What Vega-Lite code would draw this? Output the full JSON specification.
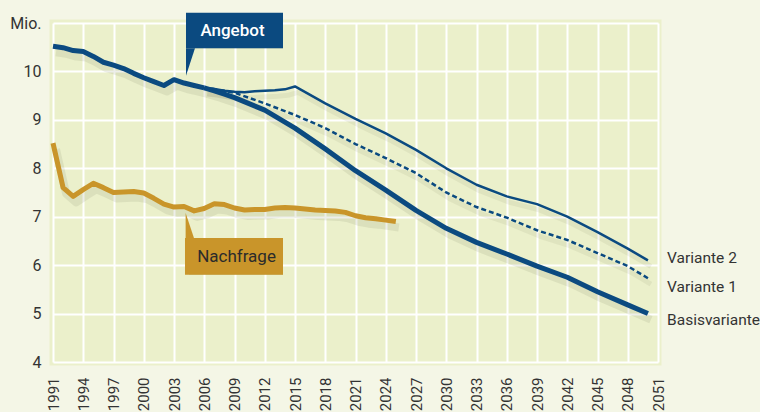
{
  "$schema": "https://vega.github.io/schema/vega-lite/v6.json",
  "width": 605,
  "height": 339,
  "autosize": {"type": "none"},
  "padding": {"left": 53, "top": 23, "right": 102, "bottom": 50},
  "background": "#f4f6e6",
  "config": {
    "font": "Roboto",
    "view": {"fill": "#ebf0cb", "stroke": "#ebf0cb", "strokeWidth": 7},
    "axis": {"grid": true, "gridColor": "#ffffff", "gridWidth": 2, "gridOpacity": 1, "ticks": false, "domain": false, "title": null, "labelColor": "#333333", "labelFont": "Roboto"}
  },
  "datasets": {
    "lines": [
      {"series": "Angebot", "year": 1991, "value": 10.52},
      {"series": "Angebot", "year": 1992, "value": 10.49},
      {"series": "Angebot", "year": 1993, "value": 10.43},
      {"series": "Angebot", "year": 1994, "value": 10.41},
      {"series": "Angebot", "year": 1995, "value": 10.31},
      {"series": "Angebot", "year": 1996, "value": 10.19},
      {"series": "Angebot", "year": 1997, "value": 10.13},
      {"series": "Angebot", "year": 1998, "value": 10.06},
      {"series": "Angebot", "year": 1999, "value": 9.96},
      {"series": "Angebot", "year": 2000, "value": 9.87},
      {"series": "Angebot", "year": 2001, "value": 9.79},
      {"series": "Angebot", "year": 2002, "value": 9.71},
      {"series": "Angebot", "year": 2003, "value": 9.83},
      {"series": "Angebot", "year": 2004, "value": 9.76},
      {"series": "Angebot", "year": 2005, "value": 9.71},
      {"series": "Angebot", "year": 2006, "value": 9.66},
      {"series": "Basisvariante", "year": 2006, "value": 9.66},
      {"series": "Basisvariante", "year": 2007, "value": 9.6},
      {"series": "Basisvariante", "year": 2008, "value": 9.53},
      {"series": "Basisvariante", "year": 2009, "value": 9.46},
      {"series": "Basisvariante", "year": 2012, "value": 9.2},
      {"series": "Basisvariante", "year": 2015, "value": 8.83},
      {"series": "Basisvariante", "year": 2018, "value": 8.4},
      {"series": "Basisvariante", "year": 2021, "value": 7.95},
      {"series": "Basisvariante", "year": 2024, "value": 7.55},
      {"series": "Basisvariante", "year": 2027, "value": 7.13},
      {"series": "Basisvariante", "year": 2030, "value": 6.76},
      {"series": "Basisvariante", "year": 2033, "value": 6.47},
      {"series": "Basisvariante", "year": 2036, "value": 6.23},
      {"series": "Basisvariante", "year": 2039, "value": 5.98},
      {"series": "Basisvariante", "year": 2042, "value": 5.75},
      {"series": "Basisvariante", "year": 2045, "value": 5.45},
      {"series": "Basisvariante", "year": 2048, "value": 5.18},
      {"series": "Basisvariante", "year": 2050, "value": 5.0},
      {"series": "Variante 2", "year": 2006, "value": 9.66},
      {"series": "Variante 2", "year": 2007, "value": 9.64},
      {"series": "Variante 2", "year": 2008, "value": 9.6},
      {"series": "Variante 2", "year": 2009, "value": 9.58},
      {"series": "Variante 2", "year": 2010, "value": 9.57},
      {"series": "Variante 2", "year": 2011, "value": 9.59},
      {"series": "Variante 2", "year": 2012, "value": 9.6},
      {"series": "Variante 2", "year": 2013, "value": 9.61},
      {"series": "Variante 2", "year": 2014, "value": 9.63},
      {"series": "Variante 2", "year": 2015, "value": 9.69},
      {"series": "Variante 2", "year": 2018, "value": 9.34},
      {"series": "Variante 2", "year": 2021, "value": 9.02},
      {"series": "Variante 2", "year": 2024, "value": 8.72},
      {"series": "Variante 2", "year": 2027, "value": 8.38},
      {"series": "Variante 2", "year": 2030, "value": 8.0},
      {"series": "Variante 2", "year": 2033, "value": 7.66},
      {"series": "Variante 2", "year": 2036, "value": 7.42},
      {"series": "Variante 2", "year": 2039, "value": 7.26},
      {"series": "Variante 2", "year": 2042, "value": 7.0},
      {"series": "Variante 2", "year": 2045, "value": 6.68},
      {"series": "Variante 2", "year": 2048, "value": 6.34},
      {"series": "Variante 2", "year": 2050, "value": 6.1},
      {"series": "Variante 1", "year": 2006, "value": 9.66},
      {"series": "Variante 1", "year": 2007, "value": 9.63},
      {"series": "Variante 1", "year": 2008, "value": 9.6},
      {"series": "Variante 1", "year": 2009, "value": 9.56},
      {"series": "Variante 1", "year": 2012, "value": 9.34},
      {"series": "Variante 1", "year": 2015, "value": 9.1},
      {"series": "Variante 1", "year": 2018, "value": 8.83},
      {"series": "Variante 1", "year": 2021, "value": 8.5},
      {"series": "Variante 1", "year": 2024, "value": 8.21},
      {"series": "Variante 1", "year": 2027, "value": 7.9},
      {"series": "Variante 1", "year": 2030, "value": 7.5},
      {"series": "Variante 1", "year": 2033, "value": 7.2},
      {"series": "Variante 1", "year": 2036, "value": 6.98},
      {"series": "Variante 1", "year": 2039, "value": 6.72},
      {"series": "Variante 1", "year": 2042, "value": 6.52},
      {"series": "Variante 1", "year": 2045, "value": 6.25},
      {"series": "Variante 1", "year": 2048, "value": 5.98},
      {"series": "Variante 1", "year": 2050, "value": 5.73},
      {"series": "Nachfrage", "year": 1991, "value": 8.52},
      {"series": "Nachfrage", "year": 1992, "value": 7.6},
      {"series": "Nachfrage", "year": 1993, "value": 7.42},
      {"series": "Nachfrage", "year": 1994, "value": 7.56},
      {"series": "Nachfrage", "year": 1995, "value": 7.69},
      {"series": "Nachfrage", "year": 1996, "value": 7.6},
      {"series": "Nachfrage", "year": 1997, "value": 7.5},
      {"series": "Nachfrage", "year": 1998, "value": 7.51},
      {"series": "Nachfrage", "year": 1999, "value": 7.52},
      {"series": "Nachfrage", "year": 2000, "value": 7.49},
      {"series": "Nachfrage", "year": 2001, "value": 7.38},
      {"series": "Nachfrage", "year": 2002, "value": 7.26},
      {"series": "Nachfrage", "year": 2003, "value": 7.2},
      {"series": "Nachfrage", "year": 2004, "value": 7.21},
      {"series": "Nachfrage", "year": 2005, "value": 7.12},
      {"series": "Nachfrage", "year": 2006, "value": 7.17},
      {"series": "Nachfrage", "year": 2007, "value": 7.27},
      {"series": "Nachfrage", "year": 2008, "value": 7.25},
      {"series": "Nachfrage", "year": 2009, "value": 7.18},
      {"series": "Nachfrage", "year": 2010, "value": 7.14},
      {"series": "Nachfrage", "year": 2011, "value": 7.15},
      {"series": "Nachfrage", "year": 2012, "value": 7.15},
      {"series": "Nachfrage", "year": 2013, "value": 7.18},
      {"series": "Nachfrage", "year": 2014, "value": 7.19},
      {"series": "Nachfrage", "year": 2015, "value": 7.18},
      {"series": "Nachfrage", "year": 2016, "value": 7.16},
      {"series": "Nachfrage", "year": 2017, "value": 7.14},
      {"series": "Nachfrage", "year": 2018, "value": 7.13},
      {"series": "Nachfrage", "year": 2019, "value": 7.12},
      {"series": "Nachfrage", "year": 2020, "value": 7.09},
      {"series": "Nachfrage", "year": 2021, "value": 7.02},
      {"series": "Nachfrage", "year": 2022, "value": 6.98},
      {"series": "Nachfrage", "year": 2023, "value": 6.96},
      {"series": "Nachfrage", "year": 2024, "value": 6.93},
      {"series": "Nachfrage", "year": 2025, "value": 6.9}
    ],
    "boxes": [
      {"label": "Angebot", "year": 2004.19, "year2": 2013.81, "value": 11.21, "value2": 10.48},
      {"label": "Nachfrage", "year": 2004.09, "year2": 2013.81, "value": 6.56, "value2": 5.8}
    ],
    "pointers": [
      {"label": "Angebot", "year": 2004.19, "value": 10.48, "value2": 9.91},
      {"label": "Angebot", "year": 2005.08, "value": 10.48, "value2": 10.48},
      {"label": "Nachfrage", "year": 2004.15, "value": 6.56, "value2": 7.08},
      {"label": "Nachfrage", "year": 2004.98, "value": 6.56, "value2": 6.56}
    ],
    "boxtexts": [
      {"label": "Angebot", "year": 2008.8, "value": 10.84},
      {"label": "Nachfrage", "year": 2009.2, "value": 6.17}
    ],
    "endlabels": [
      {"label": "Variante 2", "year": 2051.9, "value": 6.15},
      {"label": "Variante 1", "year": 2051.9, "value": 5.55},
      {"label": "Basisvariante", "year": 2051.9, "value": 4.87}
    ]
  },
  "encoding": {
    "x": {
      "field": "year", "type": "quantitative",
      "scale": {"domain": [1991, 2051], "nice": false, "zero": false},
      "axis": {"values": [1991, 1994, 1997, 2000, 2003, 2006, 2009, 2012, 2015, 2018, 2021, 2024, 2027, 2030, 2033, 2036, 2039, 2042, 2045, 2048, 2051], "format": "d", "labelAngle": -90, "labelAlign": "right", "labelBaseline": "middle", "labelPadding": 15, "labelFontSize": 15, "labelOverlap": false, "labelBound": false, "labelFlush": false}
    },
    "y": {
      "field": "value", "type": "quantitative",
      "scale": {"domain": [4, 11], "nice": false, "zero": false},
      "axis": {"values": [4, 5, 6, 7, 8, 9, 10, 11], "labelExpr": "datum.value == 11 ? 'Mio.' : datum.label", "labelPadding": 12, "labelFontSize": 16, "labelOverlap": false, "labelFlush": false}
    }
  },
  "layer": [
    {
      "data": {"name": "lines"},
      "transform": [{"filter": "datum.series == 'Angebot' || datum.series == 'Basisvariante' || datum.series == 'Nachfrage'"}],
      "mark": {"type": "line", "color": "#6f7350", "opacity": 0.12, "strokeWidth": 8, "xOffset": 3, "yOffset": 6, "strokeJoin": "round"},
      "encoding": {"detail": {"field": "series"}}
    },
    {
      "data": {"name": "lines"},
      "transform": [{"filter": "datum.series == 'Variante 1' || datum.series == 'Variante 2'"}],
      "mark": {"type": "line", "color": "#6f7350", "opacity": 0.09, "strokeWidth": 5, "xOffset": 3, "yOffset": 6, "strokeJoin": "round"},
      "encoding": {"detail": {"field": "series"}}
    },
    {
      "data": {"name": "lines"},
      "transform": [{"filter": "datum.series == 'Nachfrage'"}],
      "mark": {"type": "line", "color": "#c9952a", "strokeWidth": 5, "strokeJoin": "round"},
      "encoding": {}
    },
    {
      "data": {"name": "lines"},
      "transform": [{"filter": "datum.series == 'Angebot' || datum.series == 'Basisvariante'"}],
      "mark": {"type": "line", "color": "#0b4a80", "strokeWidth": 5, "strokeJoin": "round"},
      "encoding": {"detail": {"field": "series"}}
    },
    {
      "data": {"name": "lines"},
      "transform": [{"filter": "datum.series == 'Variante 2'"}],
      "mark": {"type": "line", "color": "#0b4a80", "strokeWidth": 2.5, "strokeJoin": "round"},
      "encoding": {}
    },
    {
      "data": {"name": "lines"},
      "transform": [{"filter": "datum.series == 'Variante 1'"}],
      "mark": {"type": "line", "color": "#0b4a80", "strokeWidth": 2.5, "strokeDash": [5, 3]},
      "encoding": {}
    },
    {
      "data": {"name": "boxes"},
      "mark": {"type": "rect", "color": "#4d5030", "opacity": 0.22, "xOffset": 4, "yOffset": 5},
      "encoding": {"x2": {"field": "year2"}, "y2": {"field": "value2"}}
    },
    {
      "data": {"name": "boxes"},
      "mark": {"type": "rect"},
      "encoding": {
        "x2": {"field": "year2"}, "y2": {"field": "value2"},
        "color": {"field": "label", "type": "nominal", "scale": {"domain": ["Angebot", "Nachfrage"], "range": ["#0b4a80", "#c9952a"]}, "legend": null}
      }
    },
    {
      "data": {"name": "pointers"},
      "mark": {"type": "area", "orient": "vertical"},
      "encoding": {
        "y2": {"field": "value2"},
        "detail": {"field": "label"},
        "color": {"field": "label", "type": "nominal", "scale": {"domain": ["Angebot", "Nachfrage"], "range": ["#0b4a80", "#c9952a"]}, "legend": null}
      }
    },
    {
      "data": {"name": "boxtexts"},
      "transform": [{"filter": "datum.label == 'Angebot'"}],
      "mark": {"type": "text", "color": "#ffffff", "fontSize": 17, "fontWeight": 500, "align": "center", "baseline": "middle"},
      "encoding": {"text": {"field": "label"}}
    },
    {
      "data": {"name": "boxtexts"},
      "transform": [{"filter": "datum.label == 'Nachfrage'"}],
      "mark": {"type": "text", "color": "#2b2b2b", "fontSize": 17, "align": "center", "baseline": "middle"},
      "encoding": {"text": {"field": "label"}}
    },
    {
      "data": {"name": "endlabels"},
      "mark": {"type": "text", "color": "#333333", "fontSize": 15.5, "align": "left", "baseline": "middle"},
      "encoding": {"text": {"field": "label"}}
    }
  ]
}
